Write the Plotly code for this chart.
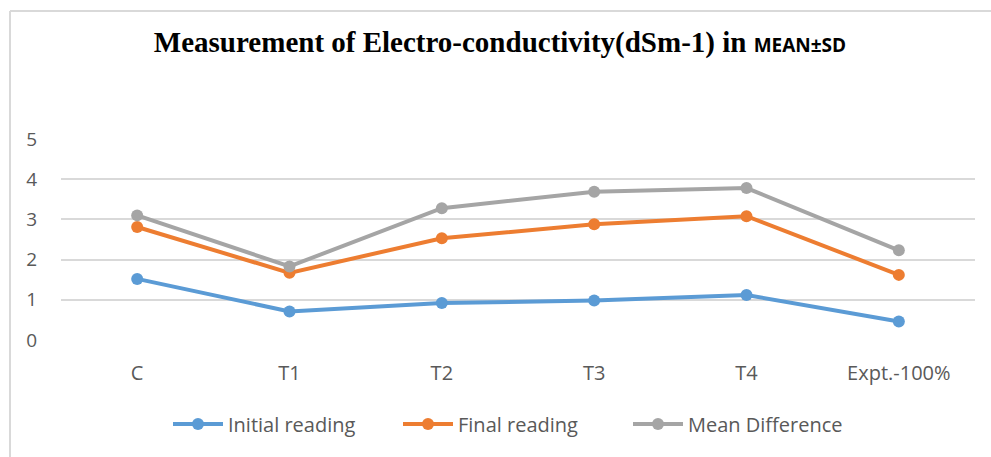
import plotly.graph_objects as go

# Treatment groups on the category axis
categories = ["C", "T1", "T2", "T3", "T4", "Expt.-100%"]

# Electro-conductivity readings (dSm-1)
initial_reading = [1.52, 0.71, 0.92, 0.98, 1.12, 0.46]
final_reading = [2.81, 1.67, 2.53, 2.88, 3.08, 1.62]
mean_difference = [3.10, 1.83, 3.28, 3.69, 3.78, 2.23]

y_ticks = [0, 1, 2, 3, 4, 5]

series = [
    ("Initial reading", initial_reading, "#5B9BD5"),
    ("Final reading", final_reading, "#ED7D31"),
    ("Mean Difference", mean_difference, "#A5A5A5"),
]

W, H = 991, 457
L, R, T, B = 61, 16, 139, 117
plot_w = W - L - R
plot_h = H - T - B

fig = go.Figure()
for name, vals, color in series:
    fig.add_trace(go.Scatter(
        x=categories, y=vals, name=name, mode="lines+markers",
        line=dict(color=color, width=4),
        marker=dict(color=color, size=12),
    ))

sans = "Open Sans, sans-serif"
tick_color = "#595959"
grid_color = "#D9D9D9"

title_text = ("<b>Measurement of Electro-conductivity(dSm-1) in </b>"
              "<span style='font-family:Open Sans;font-size:19px'><b>MEAN±SD</b></span>")

# chart frame: top and left edges only
px_x = lambda px: (px - L) / plot_w
px_y = lambda py: (H - B - py) / plot_h
frame = dict(color="#D9D9D9", width=2)

fig.update_layout(
    width=W, height=H,
    margin=dict(l=L, r=R, t=T, b=B),
    paper_bgcolor="white", plot_bgcolor="white",
    title=dict(text=title_text, x=500 / W, xanchor="center",
               y=1 - 42 / H, yanchor="middle", xref="container", yref="container",
               font=dict(family="Liberation Serif, serif", size=29, color="#000000")),
    xaxis=dict(type="category", range=[-0.5, 5.5], showgrid=False, zeroline=False,
               showline=False, ticks="",
               tickfont=dict(family=sans, size=20, color=tick_color),
               ticklabelstandoff=19, fixedrange=True),
    yaxis=dict(range=[0, 5], tickvals=y_ticks, showgrid=True, gridcolor=grid_color,
               gridwidth=1.5, zeroline=False, showline=False, ticks="",
               tickfont=dict(family=sans, size=19, color=tick_color),
               ticklabelstandoff=23, fixedrange=True),
    legend=dict(orientation="h", x=513 / W, xanchor="center", xref="container",
                y=1 - 424 / H, yanchor="middle", yref="container",
                font=dict(family=sans, size=20, color=tick_color),
                itemwidth=50, entrywidth=165, tracegroupgap=0),
    shapes=[
        dict(type="line", xref="paper", yref="paper", x0=px_x(10), x1=px_x(991),
             y0=px_y(11), y1=px_y(11), line=frame, layer="below"),
        dict(type="line", xref="paper", yref="paper", x0=px_x(10), x1=px_x(10),
             y0=px_y(11), y1=px_y(457), line=frame, layer="below"),
    ],
    showlegend=True,
)

fig.write_html("out.html")
